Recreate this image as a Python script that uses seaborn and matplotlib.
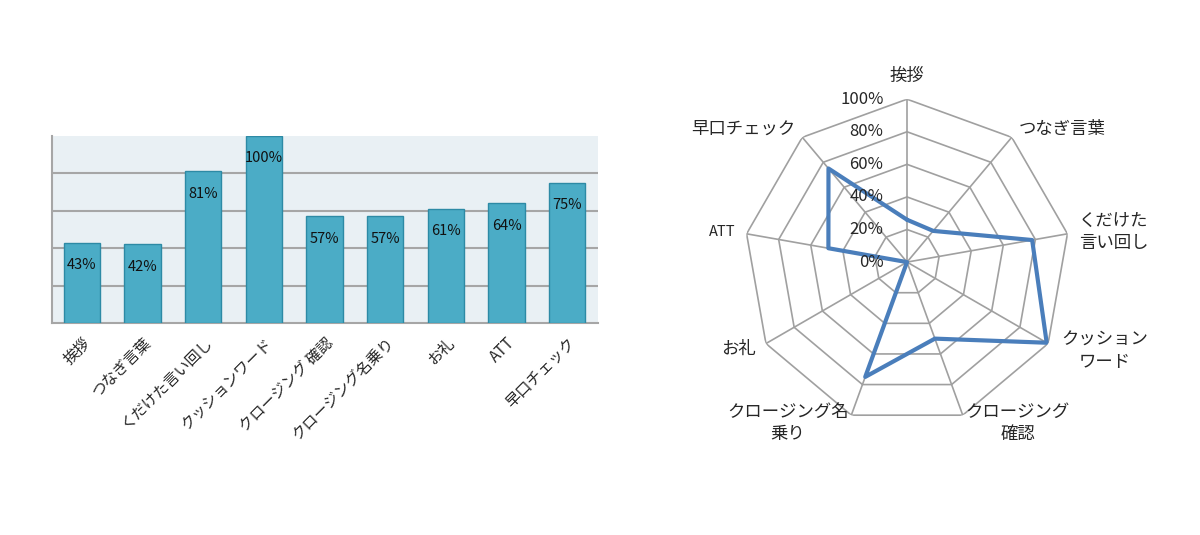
import numpy as np
import pandas as pd
import matplotlib
matplotlib.use("Agg")
import matplotlib.pyplot as plt
import seaborn as sns

# ------------------------------------------------------------
# Data
# ------------------------------------------------------------
bar_categories = ["挨拶", "つなぎ言葉", "くだけた言い回し", "クッションワード",
                  "クロージング 確認", "クロージング名乗り", "お礼", "ATT", "早口チェック"]
bar_values = [43, 42, 81, 100, 57, 57, 61, 64, 75]

radar_labels = ["挨拶", "つなぎ言葉", "くだけた\n言い回し", "クッション\nワード",
                "クロージング\n確認", "クロージング名\n乗り", "お礼", "ATT", "早口チェック"]
radar_values = [26, 25, 78, 99, 50, 75, 0, 49, 75]
radar_ticks = [0, 20, 40, 60, 80, 100]

sns.set_style("white")
plt.rcParams['font.family'] = ['Noto Sans CJK JP', 'DejaVu Sans']

fig = plt.figure(figsize=(12, 5.35), dpi=100)

# ------------------------------------------------------------
# Bar chart
# ------------------------------------------------------------
ax = fig.add_axes([0.043, 0.396, 0.455, 0.350])
df = pd.DataFrame({"cat": bar_categories, "val": bar_values})
sns.barplot(data=df, x="cat", y="val", color="#4bacc6", width=0.6,
            edgecolor="#2d8aa5", linewidth=1.0, saturation=1, ax=ax, zorder=3)
ax.set_facecolor("#e9f0f4")
ax.set_ylim(0, 100)
ax.set_xlim(-0.5, len(bar_categories) - 0.5)
ax.set_yticks([20, 40, 60, 80])
ax.yaxis.grid(True, color="#a6a6a6", linewidth=1.5, zorder=0)
ax.set_axisbelow(True)
ax.tick_params(axis="y", length=0, labelleft=False)
ax.tick_params(axis="x", length=0, pad=8)
for side in ["top", "right"]:
    ax.spines[side].set_visible(False)
for side in ["left", "bottom"]:
    ax.spines[side].set_color("#a6a6a6")
    ax.spines[side].set_linewidth(1.5)
ax.set_xlabel("")
ax.set_ylabel("")
ax.set_xticks(range(len(bar_categories)))
ax.set_xticklabels(bar_categories, rotation=45, ha="right",
                   rotation_mode="anchor", fontsize=11)
for i, v in enumerate(bar_values):
    ax.text(i, v - 12, f"{v}%", ha="center", va="center", fontsize=10.5,
            color="#111111", zorder=4)

# ------------------------------------------------------------
# Radar chart
# ------------------------------------------------------------
n = len(radar_labels)
theta = np.linspace(0, 2 * np.pi, n, endpoint=False)
rax = fig.add_axes([0.620, 0.2056, 0.2717, 0.609], projection="polar")
rax.set_theta_offset(np.pi / 2)
rax.set_theta_direction(-1)
rax.set_ylim(0, 100)
rax.grid(False)
rax.spines["polar"].set_visible(False)
rax.set_xticks([])
rax.set_yticks([])

ring_theta = np.append(theta, theta[0])
for r in radar_ticks[1:]:
    rax.plot(ring_theta, [r] * (n + 1), color="#a0a0a0", linewidth=1.2, zorder=1)
for t in theta:
    rax.plot([t, t], [0, 100], color="#a0a0a0", linewidth=1.2, zorder=1)

sns.lineplot(x=np.append(theta, 2 * np.pi),
             y=radar_values + [radar_values[0]],
             sort=False, estimator=None, color="#4a7ebb", linewidth=3,
             ax=rax, zorder=3)

for r in radar_ticks:
    rax.annotate(f"{r}%", xy=(0, r), xytext=(-17, 0), textcoords="offset points",
                 ha="right", va="center", fontsize=12)

label_pos = [
    (1.09, "center", "bottom"),
    (1.07, "left", "center"),
    (1.07, "left", "center"),
    (1.09, "left", "center"),
    (1.05, "left", "center"),
    (1.05, "right", "center"),
    (1.07, "right", "center"),
    (1.07, "right", "center"),
    (1.07, "right", "center"),
]
for t, lab, (rr, ha, va) in zip(theta, radar_labels, label_pos):
    rax.text(t, rr * 100, lab, ha=ha, va=va, multialignment="center",
             fontsize=12.5 if lab != "ATT" else 10.5, linespacing=1.3)

fig.savefig("out.png", dpi=100)
